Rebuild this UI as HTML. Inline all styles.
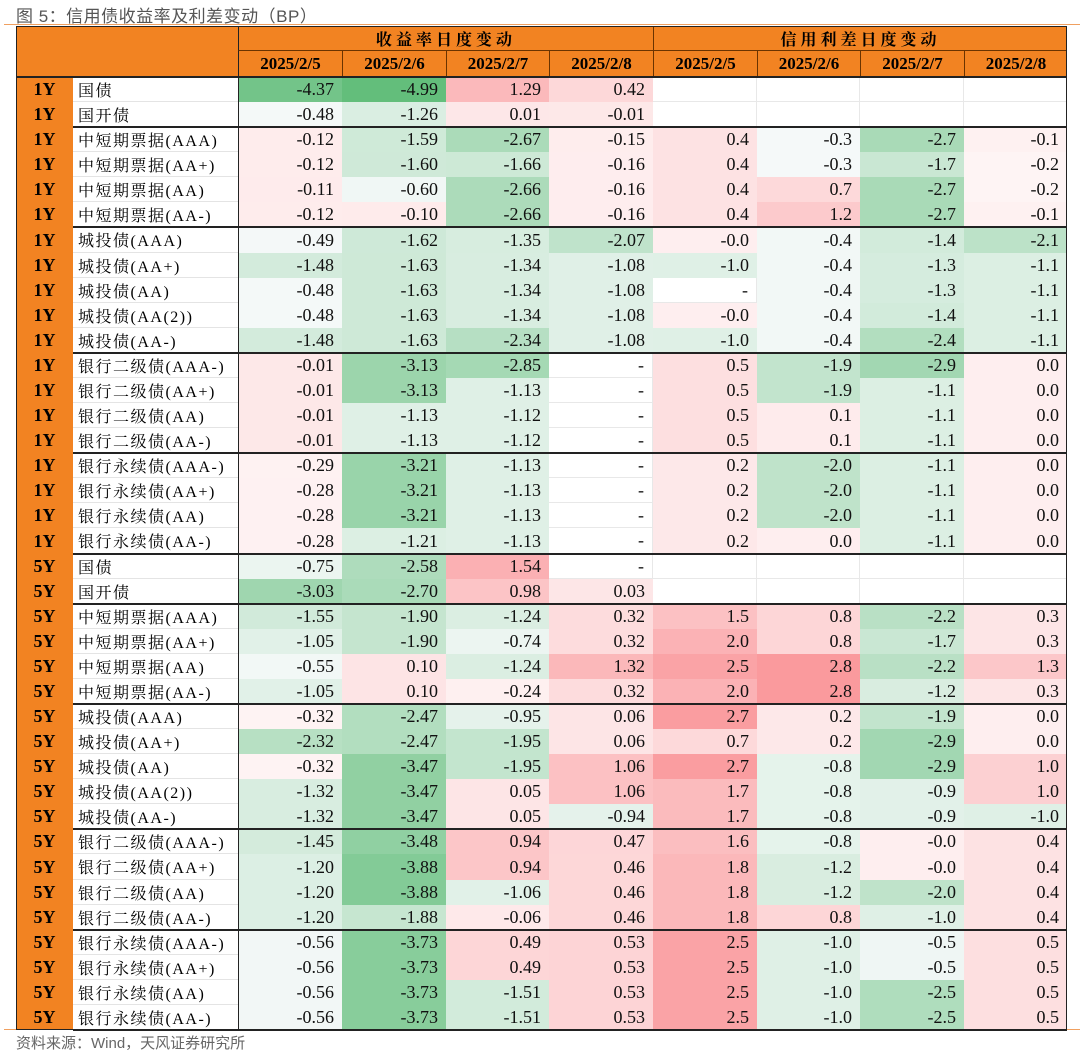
<!DOCTYPE html>
<html><head><meta charset="utf-8">
<style>
body{margin:0;width:1080px;height:1052px;background:#fff;position:relative;overflow:hidden;font-family:"Liberation Serif","Noto Serif CJK SC",serif;}
.c{position:absolute;box-sizing:border-box;display:flex;align-items:center;white-space:nowrap;}
#title{position:absolute;left:16px;top:2px;font:17px "Liberation Sans","Noto Sans CJK SC",sans-serif;color:#555;letter-spacing:0.5px;}
#src{position:absolute;left:16px;top:1032px;font:15px "Liberation Sans","Noto Sans CJK SC",sans-serif;color:#666;}
.ln{position:absolute;}
</style></head><body>
<div id="title">图 5：信用债收益率及利差变动（BP）</div>
<div class="ln" style="left:4px;top:24px;width:1076px;height:1px;background:#f0a060"></div>
<div class="ln" style="left:4px;top:1029px;width:1076px;height:1px;background:#f0a060"></div>
<div id="tbl"></div>
<div id="src">资料来源：Wind，天风证券研究所</div>
<script>
const dates=["2025/2/5","2025/2/6","2025/2/7","2025/2/8"];
const tenors=["1Y","1Y","1Y","1Y","1Y","1Y","1Y","1Y","1Y","1Y","1Y","1Y","1Y","1Y","1Y","1Y","1Y","1Y","1Y","5Y","5Y","5Y","5Y","5Y","5Y","5Y","5Y","5Y","5Y","5Y","5Y","5Y","5Y","5Y","5Y","5Y","5Y","5Y"];
const names=["国债","国开债","中短期票据(AAA)","中短期票据(AA+)","中短期票据(AA)","中短期票据(AA-)","城投债(AAA)","城投债(AA+)","城投债(AA)","城投债(AA(2))","城投债(AA-)","银行二级债(AAA-)","银行二级债(AA+)","银行二级债(AA)","银行二级债(AA-)","银行永续债(AAA-)","银行永续债(AA+)","银行永续债(AA)","银行永续债(AA-)","国债","国开债","中短期票据(AAA)","中短期票据(AA+)","中短期票据(AA)","中短期票据(AA-)","城投债(AAA)","城投债(AA+)","城投债(AA)","城投债(AA(2))","城投债(AA-)","银行二级债(AAA-)","银行二级债(AA+)","银行二级债(AA)","银行二级债(AA-)","银行永续债(AAA-)","银行永续债(AA+)","银行永续债(AA)","银行永续债(AA-)"];
const yields=[
["-4.37","-4.99","1.29","0.42"],["-0.48","-1.26","0.01","-0.01"],
["-0.12","-1.59","-2.67","-0.15"],["-0.12","-1.60","-1.66","-0.16"],["-0.11","-0.60","-2.66","-0.16"],["-0.12","-0.10","-2.66","-0.16"],
["-0.49","-1.62","-1.35","-2.07"],["-1.48","-1.63","-1.34","-1.08"],["-0.48","-1.63","-1.34","-1.08"],["-0.48","-1.63","-1.34","-1.08"],["-1.48","-1.63","-2.34","-1.08"],
["-0.01","-3.13","-2.85","-"],["-0.01","-3.13","-1.13","-"],["-0.01","-1.13","-1.12","-"],["-0.01","-1.13","-1.12","-"],
["-0.29","-3.21","-1.13","-"],["-0.28","-3.21","-1.13","-"],["-0.28","-3.21","-1.13","-"],["-0.28","-1.21","-1.13","-"],
["-0.75","-2.58","1.54","-"],["-3.03","-2.70","0.98","0.03"],
["-1.55","-1.90","-1.24","0.32"],["-1.05","-1.90","-0.74","0.32"],["-0.55","0.10","-1.24","1.32"],["-1.05","0.10","-0.24","0.32"],
["-0.32","-2.47","-0.95","0.06"],["-2.32","-2.47","-1.95","0.06"],["-0.32","-3.47","-1.95","1.06"],["-1.32","-3.47","0.05","1.06"],["-1.32","-3.47","0.05","-0.94"],
["-1.45","-3.48","0.94","0.47"],["-1.20","-3.88","0.94","0.46"],["-1.20","-3.88","-1.06","0.46"],["-1.20","-1.88","-0.06","0.46"],
["-0.56","-3.73","0.49","0.53"],["-0.56","-3.73","0.49","0.53"],["-0.56","-3.73","-1.51","0.53"],["-0.56","-3.73","-1.51","0.53"]];
const spreads=[
["","","",""],["","","",""],
["0.4","-0.3","-2.7","-0.1"],["0.4","-0.3","-1.7","-0.2"],["0.4","0.7","-2.7","-0.2"],["0.4","1.2","-2.7","-0.1"],
["-0.0","-0.4","-1.4","-2.1"],["-1.0","-0.4","-1.3","-1.1"],["-","-0.4","-1.3","-1.1"],["-0.0","-0.4","-1.4","-1.1"],["-1.0","-0.4","-2.4","-1.1"],
["0.5","-1.9","-2.9","0.0"],["0.5","-1.9","-1.1","0.0"],["0.5","0.1","-1.1","0.0"],["0.5","0.1","-1.1","0.0"],
["0.2","-2.0","-1.1","0.0"],["0.2","-2.0","-1.1","0.0"],["0.2","-2.0","-1.1","0.0"],["0.2","0.0","-1.1","0.0"],
["","","",""],["","","",""],
["1.5","0.8","-2.2","0.3"],["2.0","0.8","-1.7","0.3"],["2.5","2.8","-2.2","1.3"],["2.0","2.8","-1.2","0.3"],
["2.7","0.2","-1.9","0.0"],["0.7","0.2","-2.9","0.0"],["2.7","-0.8","-2.9","1.0"],["1.7","-0.8","-0.9","1.0"],["1.7","-0.8","-0.9","-1.0"],
["1.6","-0.8","-0.0","0.4"],["1.8","-1.2","-0.0","0.4"],["1.8","-1.2","-2.0","0.4"],["1.8","0.8","-1.0","0.4"],
["2.5","-1.0","-0.5","0.5"],["2.5","-1.0","-0.5","0.5"],["2.5","-1.0","-2.5","0.5"],["2.5","-1.0","-2.5","0.5"]];
const groupEnds=[2,6,11,15,19,21,25,30,34,38];

const T=document.getElementById('tbl');
const colX=[16,73,238,342,446,549,653,757,860,964,1067];
const top0=26,h1=25,h2=25,rowY0=77,rowH=25.08;
const ORANGE="#f28322";
function cell(x,y,w,h,txt,css,name){
  const d=document.createElement('div');d.className='c';
  d.style.cssText+=`left:${x}px;top:${y}px;width:${w}px;height:${h}px;`+css;
  d.textContent=txt;
  
  
  T.appendChild(d);return d;
}
function color(v,mid,gDen,rDen){
  if(isNaN(v))return '#fff';
  let r,g,b,t;
  if(v>=mid){t=Math.min(1,0.06+(v-mid)/rDen);r=255+(248-255)*t;g=255+(105-255)*t;b=255+(110-255)*t;}
  else{t=Math.min(1,0.03+(mid-v)/gDen);r=252+(99-252)*t;g=252+(190-252)*t;b=255+(123-255)*t;}
  return `rgb(${r|0},${g|0},${b|0})`;
}
cell(colX[0],top0,colX[2]-colX[0],h1+h2,"",`background:${ORANGE};`,'header-corner');
cell(colX[2],top0,colX[6]-colX[2],h1,"收益率日度变动",`background:${ORANGE};justify-content:center;font-weight:bold;font-size:16px;letter-spacing:4px;border-left:1.5px solid #222;border-bottom:1px solid #6a3300;`,'yield-change-header');
cell(colX[6],top0,colX[10]-colX[6],h1,"信用利差日度变动",`background:${ORANGE};justify-content:center;font-weight:bold;font-size:16px;letter-spacing:4px;border-left:1px solid #6a3300;border-bottom:1px solid #6a3300;`,'spread-change-header');
for(let k=0;k<8;k++){
  cell(colX[k+2],top0+h1,colX[k+3]-colX[k+2],h2,dates[k%4],`background:${ORANGE};justify-content:center;font-weight:bold;font-size:17px;border-left:${k==0?'1.5px solid #222':'1px solid #6a3300'};`,'date-header-'+(k<4?'yield-':'spread-')+(k%4+1));
}
for(let i=0;i<names.length;i++){
  const y=Math.round(rowY0+i*rowH),h=Math.round(rowY0+(i+1)*rowH)-y;
  cell(colX[0],y,colX[1]-colX[0],h,tenors[i],`background:${ORANGE};justify-content:center;font-weight:bold;font-size:18px;`,'tenor-label');
  cell(colX[1],y,colX[2]-colX[1],h,names[i],`background:#fff;padding-left:5px;font-size:16px;letter-spacing:1.5px;border-bottom:1px solid #e4e4e4;`,'bond-name');
  for(let k=0;k<8;k++){
    const s=k<4?yields[i][k]:spreads[i][k-4];
    const v=parseFloat(s);
    const bg=k<4?color(v,-0.4,4.6,4.2):color(v,-0.25,4.8,5.0);
    const bl=k==0?'border-left:1.5px solid #222;':'';
    const bb=(s===''||isNaN(v))?'border-bottom:1px solid #e8e8e8;border-right:1px solid #e8e8e8;':'';
    cell(colX[k+2],y,colX[k+3]-colX[k+2],h,s,`background:${bg};justify-content:flex-end;padding-right:8px;font-size:18px;color:#111;${bl}${bb}`,'heat-cell');
  }
}
for(const g of groupEnds){
  const y=Math.round(rowY0+g*rowH);
  const d=document.createElement('div');d.className='ln';
  d.style.cssText=`left:${colX[1]}px;top:${y-1}px;width:${colX[10]-colX[1]}px;height:1.5px;background:#222;`;
  
  
  T.appendChild(d);
}
const bot=Math.round(rowY0+38*rowH);
const outer=document.createElement('div');outer.className='ln';
outer.style.cssText=`left:${colX[0]}px;top:${top0}px;width:${colX[10]-colX[0]}px;height:${bot-top0}px;border:1.5px solid #222;box-sizing:border-box;`;


T.appendChild(outer);
const hdiv=document.createElement('div');hdiv.className='ln';
hdiv.style.cssText=`left:${colX[0]}px;top:${rowY0-1}px;width:${colX[10]-colX[0]}px;height:1.5px;background:#222;`;


T.appendChild(hdiv);
</script>
</body></html>
